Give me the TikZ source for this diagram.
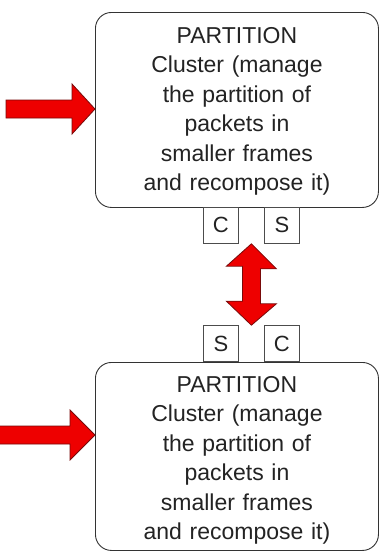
\documentclass[tikz,border=0pt]{standalone}
\usepackage{fontspec}
\setmainfont{Liberation Sans}
\usetikzlibrary{calc}

\definecolor{arrowred}{RGB}{238,0,0}
\definecolor{arrowedge}{RGB}{120,10,10}
\definecolor{textgray}{RGB}{35,35,35}

\tikzset{
  partbox/.style={draw=black!80,line width=0.9pt,rounded corners=16pt,
    minimum width=283pt,text width=276pt,align=center,inner sep=0pt,
    text=textgray,font=\fontsize{23}{29.5}\selectfont},
  portbox/.style={draw=black!70,line width=0.8pt,minimum width=35pt,
    minimum height=36pt,inner sep=0pt,text=textgray,
    font=\fontsize{22}{24}\selectfont},
  blockarrow/.style={fill=arrowred,draw=arrowedge,line width=0.8pt,line join=miter}
}

\begin{document}
\begin{tikzpicture}[x=1pt,y=-1pt]
    \useasboundingbox[fill=white] (0,0) rectangle (380,552);
    % the two partition clusters
    \node[partbox,text height=31pt,text depth=164pt,anchor=north west] (top) at (95,12)
      {PARTITION\\Cluster (manage\\the partition of\\packets in\\smaller frames\\and recompose it)};
    \node[partbox,text height=30pt,text depth=158pt,anchor=north west] (bot) at (95,362)
      {PARTITION\\Cluster (manage\\the partition of\\packets in\\smaller frames\\and recompose it)};
    % ports
    \node[portbox,anchor=north west] (c1) at (203,207) {C};
    \node[portbox,anchor=north west] (s1) at (264,207) {S};
    \node[portbox,anchor=south west] (s2) at (203,362) {S};
    \node[portbox,anchor=south west] (c2) at (264,362) {C};
    % input arrows
    \coordinate (in1) at (6,109);
    \coordinate (in2) at (-2,435);
    \coordinate (tip1) at (top.west |- in1);
    \coordinate (tip2) at (bot.west |- in2);
    \draw[blockarrow] (in1) ++(0,-9) -- ++(66,0) -- ++(0,-16) -- (tip1)
      -- ($(tip1)+(-23,25)$) -- ++(0,-16) -- ($(in1)+(0,9)$) -- cycle;
    \draw[blockarrow] (in2) ++(0,-9) -- ++(72,0) -- ++(0,-16) -- (tip2)
      -- ($(tip2)+(-25,25)$) -- ++(0,-16) -- ($(in2)+(0,9)$) -- cycle;
    % link between the clusters
    \coordinate (up) at ($(c1.south east)!0.5!(s1.south west)$);
    \coordinate (dn) at ($(s2.north east)!0.5!(c2.north west)$);
    \draw[blockarrow] (up) -- ++(25,25) -- ++(-16,0) -- ++(0,35) -- ++(16,0)
      -- (dn) -- ++(-25,-24) -- ++(16,0) -- ++(0,-35) -- ++(-16,0) -- cycle;
\end{tikzpicture}
\end{document}
